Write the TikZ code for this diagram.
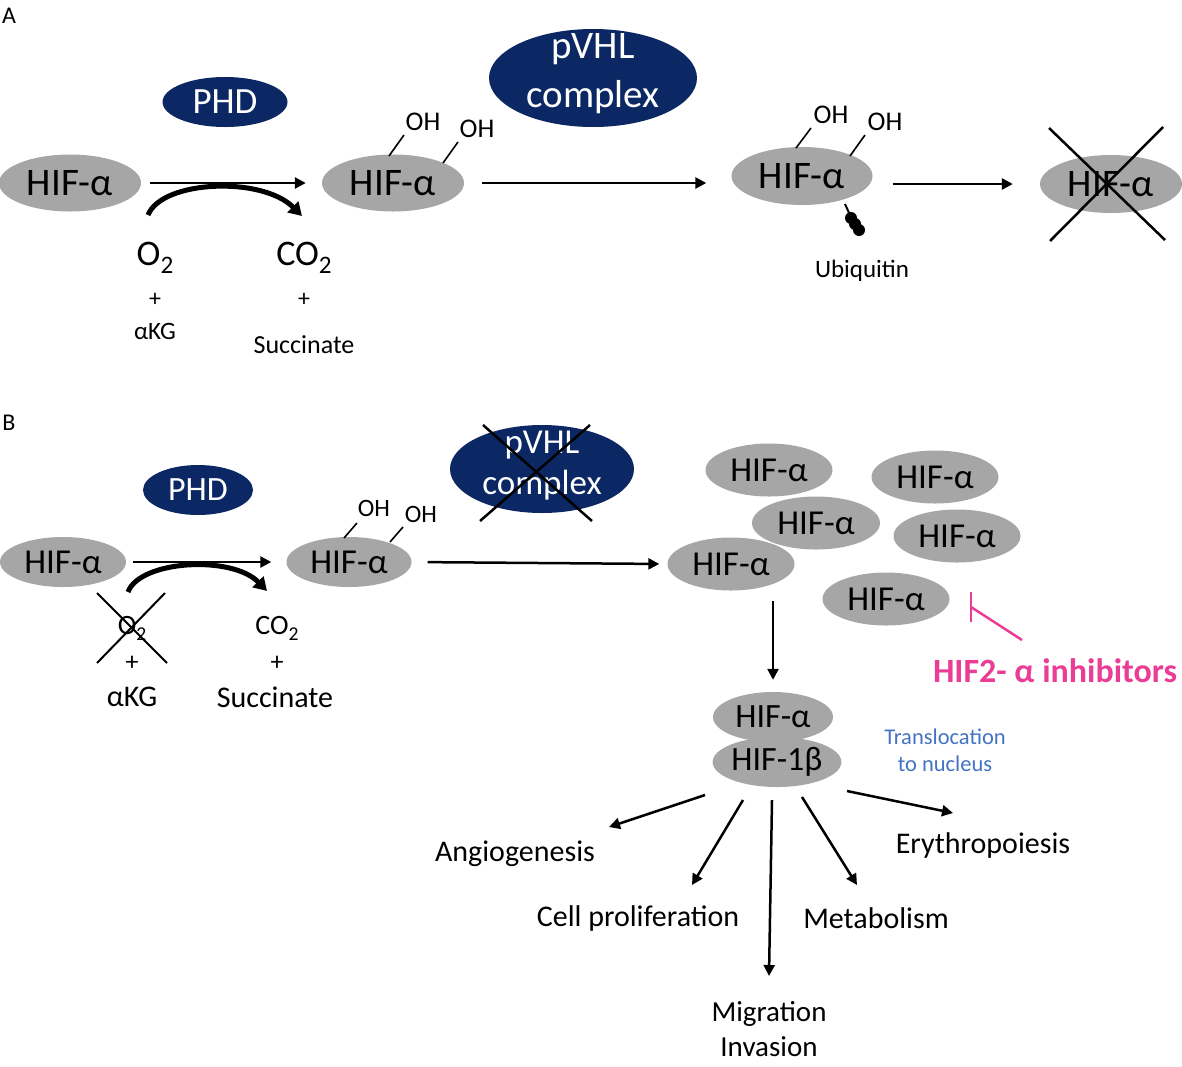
\documentclass[tikz,border=0pt]{standalone}
\usepackage{fontspec}
\setmainfont{Carlito}
\usetikzlibrary{shapes.geometric,arrows.meta,calc}
\definecolor{hifgray}{RGB}{166,166,166}
\definecolor{navy}{RGB}{12,40,100}
\definecolor{inhpink}{RGB}{234,62,150}
\definecolor{transblue}{RGB}{68,114,196}
\newcommand\fs[1]{\fontsize{#1}{#1}\selectfont}
\newcommand\mysub[1]{\raisebox{-0.22em}{\scalebox{0.7}{#1}}}
\begin{document}
\begin{tikzpicture}[x=1pt,y=-1pt,
  hif/.style={ellipse, fill=hifgray, inner sep=0pt},
  enz/.style={ellipse, fill=navy, text=white, inner sep=0pt},
  arr/.style={line width=2.5pt, -{Triangle[length=11pt,width=11pt]}},
  bendarr/.style={line width=5pt, -{Triangle[length=13pt,width=15pt]}},
  crossline/.style={line width=2.5pt},
  bond/.style={line width=1.6pt},
  lbl/.style={inner sep=0pt, align=center},
]
\useasboundingbox (0,0) rectangle (1182,1066);

% ---------------- Panel A ----------------
\node[lbl, font=\fs{24}] (labA) at (9,16) {A};
\node[hif, minimum width=142pt, minimum height=57pt, font=\fs{39}] (a1) at (70,183) {HIF-α};
\node[enz, minimum width=125pt, minimum height=50pt, font=\fs{37}] (aphd) at (225,102) {PHD};
\node[hif, minimum width=142pt, minimum height=57pt, font=\fs{39}] (a2) at (393,183) {HIF-α};
\node[enz, minimum width=208pt, minimum height=98pt] (avhl) at (593,78) {};
\node[lbl, text=white, font=\fontsize{39}{49}\selectfont] (avhltxt) at (593,74) {pVHL\\complex};
\node[hif, minimum width=141pt, minimum height=58pt, font=\fs{39}] (a3) at (802,176) {HIF-α};
\node[hif, minimum width=142pt, minimum height=58pt, font=\fs{39}] (a4) at (1111,184) {HIF-α};

% arrows
\draw[arr, shorten <=9pt, shorten >=16pt] (a1.east) -- (a2.west);
\draw[arr, shorten <=18pt, shorten >=25pt] (a2.east) -- (a2.east -| a3.west);
\draw[arr, shorten <=20pt, shorten >=27pt] (a3.east |- a4.west) -- (a4.west);

% curved co-substrate arrow
\coordinate (acs) at (148,215);
\coordinate (ace) at (302,216);
\draw[bendarr] (acs) .. controls (162,180) and (262,176) .. (ace);

\node[lbl, font=\fs{36}] (aO2) at (155,258) {O\mysub{2}};
\node[lbl, font=\fs{24}] (aplus1) at (155,300) {+};
\node[lbl, font=\fs{25}] (akg) at (155,331) {αKG};
\node[lbl, font=\fs{36}] (aCO2) at (304,258) {CO\mysub{2}};
\node[lbl, font=\fs{24}] (aplus2) at (304,300) {+};
\node[lbl, font=\fs{26}] (asucc) at (304,345) {Succinate};

% OH groups on a2
\node[lbl, font=\fs{27}] (aoh1) at (423,122) {OH};
\node[lbl, font=\fs{27}] (aoh2) at (477,129) {OH};
\draw[bond] (389,156) -- (404,135);
\draw[bond] (443,163) -- (458,142);

% OH groups on a3
\node[lbl, font=\fs{27}] (aoh3) at (831,115) {OH};
\node[lbl, font=\fs{27}] (aoh4) at (885,122) {OH};
\draw[bond] (796,148) -- (811,128);
\draw[bond] (850,156) -- (865,135);

% ubiquitin
\draw[line width=2pt] (845,204) -- (850,215);
\fill (851,218) circle (6pt);
\fill (855,224) circle (6pt);
\fill (859,230) circle (6pt);
\node[lbl, font=\fs{25}] (aubq) at (862,271) {Ubiquitin};

% cross on degraded HIF
\draw[crossline] (1049,128) -- (1165,240);
\draw[crossline] (1163,127) -- (1050,241);

% ---------------- Panel B ----------------
\node[lbl, font=\fs{24}] (labB) at (9,423) {B};
\node[hif, minimum width=126pt, minimum height=50pt, font=\fs{35}] (b1) at (63,562) {HIF-α};
\node[enz, minimum width=110pt, minimum height=50pt, font=\fs{34}] (bphd) at (198,490) {PHD};
\node[hif, minimum width=125pt, minimum height=50pt, font=\fs{35}] (b2) at (349,562) {HIF-α};
\node[enz, minimum width=184pt, minimum height=88pt] (bvhl) at (542,469) {};
\node[lbl, text=white, font=\fontsize{35}{41}\selectfont] (bvhltxt) at (542,466) {pVHL\\complex};
\draw[crossline] (483,425) -- (592,521);
\draw[crossline] (590,425) -- (480,521);

\draw[arr, shorten <=7pt, shorten >=15pt] (b1.east) -- (b2.west);

\coordinate (bcs) at (128,592);
\coordinate (bce) at (267,591);
\draw[bendarr] (bcs) .. controls (140,560) and (232,555) .. (bce);

\node[lbl, font=\fs{28}] (bO2) at (132,628) {O\mysub{2}};
\draw[line width=2pt] (97,593) -- (167,663);
\draw[line width=2pt] (165,593) -- (97,663);
\node[lbl, font=\fs{26}] (bplus1) at (132,663) {+};
\node[lbl, font=\fs{30}] (bkg) at (132,697) {αKG};
\node[lbl, font=\fs{28}] (bCO2) at (277,628) {CO\mysub{2}};
\node[lbl, font=\fs{26}] (bplus2) at (277,663) {+};
\node[lbl, font=\fs{30}] (bsucc) at (275,697) {Succinate};

\node[lbl, font=\fs{25}] (boh1) at (374,508) {OH};
\node[lbl, font=\fs{25}] (boh2) at (421,514) {OH};
\draw[bond] (344,538) -- (357,523);
\draw[bond] (390,542) -- (403,527);

% HIF cluster
\node[hif, minimum width=127pt, minimum height=53pt, font=\fs{35}] (c1) at (769,470) {HIF-α};
\node[hif, minimum width=127pt, minimum height=53pt, font=\fs{35}] (c2) at (935,477) {HIF-α};
\node[hif, minimum width=128pt, minimum height=53pt, font=\fs{35}] (c3) at (816,523) {HIF-α};
\node[hif, minimum width=127pt, minimum height=53pt, font=\fs{35}] (c4) at (957,536) {HIF-α};
\node[hif, minimum width=127pt, minimum height=53pt, font=\fs{35}] (c5) at (731,564) {HIF-α};
\node[hif, minimum width=127pt, minimum height=53pt, font=\fs{35}] (c6) at (886,599) {HIF-α};

\draw[arr, shorten <=16pt, shorten >=8pt] (b2.east) -- (c5.west);

% inhibitor
\draw[inhpink, line width=2.5pt] (971,592) -- (971,622);
\draw[inhpink, line width=2.5pt] (971,607) -- (1022,640);
\node[lbl, text=inhpink, font=\bfseries\fs{34}] (inh) at (1055,671) {HIF2- α inhibitors};

% dimer
\node[hif, minimum width=120pt, minimum height=50pt, font=\fs{34}] (ha) at (773,717) {HIF-α};
\node[hif, minimum width=120pt, minimum height=50pt, font=\fs{34}] (hb) at (777,762) {HIF-1β};
\draw[arr, shorten <=10pt, shorten >=12pt] (c5.south -| ha.north) -- (ha.north);
\node[lbl, text=transblue, font=\fontsize{22.5}{27}\selectfont] (trans) at (945,750) {Translocation\\to nucleus};

% outcomes
\node[lbl, font=\fs{30}] (angio) at (515,854) {Angiogenesis};
\node[lbl, font=\fs{30}] (prolif) at (638,918) {Cell proliferation};
\node[lbl, font=\fs{30}] (metab) at (876,918) {Metabolism};
\node[lbl, font=\fs{30}] (eryth) at (983,845) {Erythropoiesis};
\node[lbl, font=\fontsize{29}{35}\selectfont] (migr) at (769,1029) {Migration\\Invasion};

\coordinate (s1) at (705,795);
\coordinate (e1) at (609,827);
\coordinate (s2) at (743,800);
\coordinate (e2) at (692,885);
\coordinate (s3) at (772,800);
\coordinate (e3) at (769,976);
\coordinate (s4) at (802,797);
\coordinate (e4) at (857,885);
\coordinate (s5) at (847,791);
\coordinate (e5) at (953,813);
\draw[arr] (s1) -- (e1);
\draw[arr] (s2) -- (e2);
\draw[arr] (s3) -- (e3);
\draw[arr] (s4) -- (e4);
\draw[arr] (s5) -- (e5);
\end{tikzpicture}
\end{document}
